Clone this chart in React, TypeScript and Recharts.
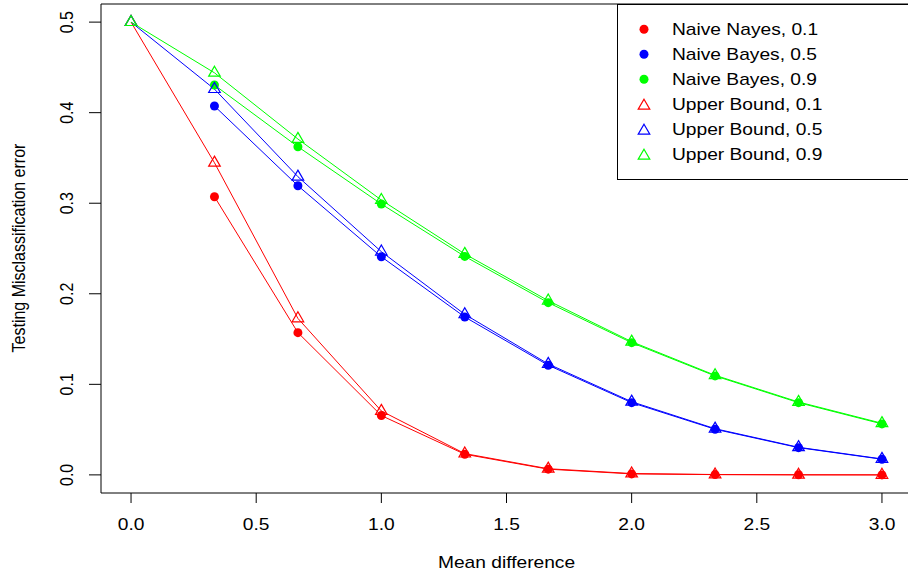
import { ComposedChart, Line, XAxis, YAxis, ReferenceLine } from "recharts";

// mean difference values (x axis)
const meanDiff = [0, 0.3333, 0.6667, 1, 1.3333, 1.6667, 2, 2.3333, 2.6667, 3];
const xTicks = [0, 0.5, 1, 1.5, 2, 2.5, 3];
const yTicks = [0, 0.1, 0.2, 0.3, 0.4, 0.5];

// naive bayes errors start at the second x value
const nb01 = [0.3072, 0.1571, 0.0655, 0.0228, 0.0063, 0.0011, 0.0003, 0.0001, 0.0];
const nb05 = [0.4073, 0.3193, 0.2409, 0.1744, 0.1211, 0.0798, 0.0504, 0.0301, 0.0173];
const nb09 = [0.4305, 0.3624, 0.2991, 0.2413, 0.1902, 0.146, 0.1093, 0.0798, 0.0563];

// upper bounds cover every x value
const ub01 = [0.5, 0.3447, 0.1728, 0.0706, 0.0235, 0.0068, 0.0015, 0.0004, 0.0001, 0.0];
const ub05 = [0.5, 0.426, 0.3293, 0.2465, 0.1773, 0.1225, 0.0808, 0.051, 0.0305, 0.0176];
const ub09 = [0.5, 0.444, 0.3709, 0.3035, 0.244, 0.1924, 0.1471, 0.11, 0.0805, 0.057];

const legendLabels = [
  "Naive Nayes, 0.1",
  "Naive Bayes, 0.5",
  "Naive Bayes, 0.9",
  "Upper Bound, 0.1",
  "Upper Bound, 0.5",
  "Upper Bound, 0.9",
];

const RED = "#ff0000";
const BLUE = "#0000ff";
const GREEN = "#00ff00";
const FONT = "'Liberation Sans', Arial, Helvetica, sans-serif";
const STRETCH = 1.2;

const toPoints = (xs: number[], ys: number[]) => ys.map((y, i) => ({ x: xs[i], y }));

type Shape = "circle" | "triangle";

const series: { key: string; data: { x: number; y: number }[]; color: string; shape: Shape }[] = [
  { key: "nb01", data: toPoints(meanDiff.slice(1), nb01), color: RED, shape: "circle" },
  { key: "nb05", data: toPoints(meanDiff.slice(1), nb05), color: BLUE, shape: "circle" },
  { key: "nb09", data: toPoints(meanDiff.slice(1), nb09), color: GREEN, shape: "circle" },
  { key: "ub01", data: toPoints(meanDiff, ub01), color: RED, shape: "triangle" },
  { key: "ub05", data: toPoints(meanDiff, ub05), color: BLUE, shape: "triangle" },
  { key: "ub09", data: toPoints(meanDiff, ub09), color: GREEN, shape: "triangle" },
];

const triPath = (cx: number, cy: number) =>
  `M${cx},${cy - 6.6} L${cx + 5.8},${cy + 3.4} L${cx - 5.8},${cy + 3.4} Z`;

const Marker = ({ cx, cy, color, shape }: { cx: number; cy: number; color: string; shape: Shape }) =>
  shape === "circle" ? (
    <circle cx={cx} cy={cy} r={4.5} fill={color} stroke="none" />
  ) : (
    <path d={triPath(cx, cy)} fill="none" stroke={color} strokeWidth={1.2} />
  );

const XTick = (props: any) => {
  const { x, y, payload } = props;
  return (
    <text
      transform={`translate(${x}, ${y + 25}) scale(${STRETCH},1)`}
      textAnchor="middle"
      fontFamily={FONT}
      fontSize={16}
      fill="#000"
    >
      {payload.value.toFixed(1)}
    </text>
  );
};

const YTick = (props: any) => {
  const { x, y, payload } = props;
  return (
    <text
      transform={`translate(${x - 14}, ${y}) scale(${STRETCH},1) rotate(-90)`}
      textAnchor="middle"
      fontFamily={FONT}
      fontSize={16}
      fill="#000"
    >
      {payload.value.toFixed(1)}
    </text>
  );
};

export default function App() {
  return (
    <div
      style={{
        position: "absolute",
        left: 0,
        top: 0,
        width: 908,
        height: 576,
        overflow: "hidden",
        background: "#fff",
      }}
    >
      <ComposedChart width={920} height={576} margin={{ top: 4, right: 8, bottom: 53, left: 41 }}>
        <XAxis
          type="number"
          dataKey="x"
          domain={[-0.12, 3.12]}
          ticks={xTicks}
          allowDataOverflow
          height={30}
          tickSize={10}
          tickMargin={2}
          stroke="#000"
          tick={<XTick />}
        />
        <YAxis
          type="number"
          dataKey="y"
          domain={[-0.02, 0.52]}
          ticks={yTicks}
          allowDataOverflow
          width={60}
          tickSize={12}
          tickMargin={2}
          stroke="#000"
          tick={<YTick />}
        />
        <ReferenceLine y={0.52} stroke="#000" strokeWidth={1} />
        {series.map((s) => (
          <Line
            key={s.key}
            data={s.data}
            dataKey="y"
            type="linear"
            stroke={s.color}
            strokeWidth={1}
            isAnimationActive={false}
            activeDot={false}
            dot={(p: any) => (
              <Marker key={`${s.key}-${p.index}`} cx={p.cx} cy={p.cy} color={s.color} shape={s.shape} />
            )}
          />
        ))}
      </ComposedChart>
      <svg
        width={908}
        height={576}
        style={{ position: "absolute", left: 0, top: 0, pointerEvents: "none" }}
      >
        <text
          transform={`translate(506.5, 568) scale(${STRETCH},1)`}
          textAnchor="middle"
          fontFamily={FONT}
          fontSize={16}
        >
          Mean difference
        </text>
        <text
          transform={`translate(25, 248) scale(${STRETCH},1) rotate(-90)`}
          textAnchor="middle"
          fontFamily={FONT}
          fontSize={16}
        >
          Testing Misclassification error
        </text>
        <rect x={617.5} y={4.5} width={300} height={175} fill="#fff" stroke="#000" strokeWidth={1} />
        {legendLabels.map((label, i) => {
          const cy = 29.3 + i * 25;
          const color = [RED, BLUE, GREEN][i % 3];
          const shape: Shape = i < 3 ? "circle" : "triangle";
          return (
            <g key={label}>
              <Marker cx={644} cy={shape === "triangle" ? cy + 1.5 : cy} color={color} shape={shape} />
              <text
                transform={`translate(672, ${cy + 6}) scale(${STRETCH},1)`}
                fontFamily={FONT}
                fontSize={16}
              >
                {label}
              </text>
            </g>
          );
        })}
      </svg>
    </div>
  );
}
